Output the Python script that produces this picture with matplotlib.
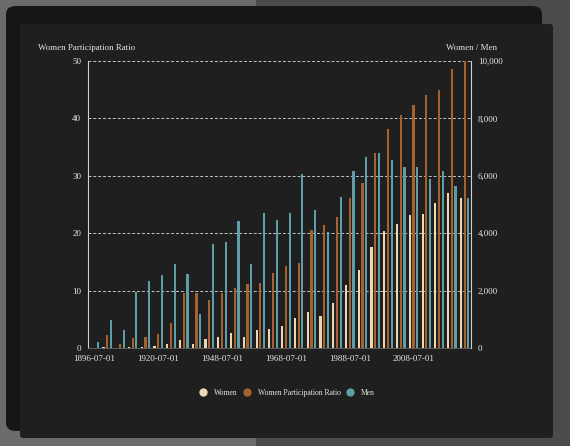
import numpy as np
import matplotlib
matplotlib.use('Agg')
from matplotlib import pyplot as plt
from matplotlib.patches import FancyBboxPatch, Rectangle
from matplotlib.lines import Line2D
from matplotlib.ticker import FuncFormatter

dates = ['1896-07-01', '1900-07-01', '1904-07-01', '1908-07-01', '1912-07-01',
         '1920-07-01', '1924-07-01', '1928-07-01', '1932-07-01', '1936-07-01',
         '1948-07-01', '1952-07-01', '1956-07-01', '1960-07-01', '1964-07-01',
         '1968-07-01', '1972-07-01', '1976-07-01', '1980-07-01', '1984-07-01',
         '1988-07-01', '1992-07-01', '1996-07-01', '2000-07-01', '2004-07-01',
         '2008-07-01', '2012-07-01', '2016-07-01', '2020-07-01', '2024-07-01']

women = [0, 22, 6, 37, 48, 65, 135, 277, 126, 331,
         390, 519, 376, 611, 678, 781, 1059, 1260, 1115, 1566,
         2194, 2704, 3512, 4069, 4329, 4637, 4676, 5059, 5389, 5227]

men = [210, 960, 620, 1960, 2350, 2550, 2940, 2590, 1190, 3620,
       3700, 4420, 2920, 4710, 4450, 4720, 6060, 4800, 4050, 5250,
       6180, 6640, 6780, 6560, 6290, 6290, 5880, 6170, 5660, 5220]

ratio = [0, 2.2, 0.7, 1.8, 2.0, 2.5, 4.4, 9.6, 9.5, 8.4,
         9.5, 10.5, 11.2, 11.4, 13.1, 14.2, 14.8, 20.6, 21.4, 22.8,
         26.1, 28.8, 34.0, 38.1, 40.6, 42.3, 44.1, 45.0, 48.6, 50.0]

c_women = '#ecd8b2'
c_ratio = '#a6622e'
c_men = '#5f9ea8'
txt = '#e6e6e6'
serif = ['Liberation Serif', 'DejaVu Serif']

fig = plt.figure(figsize=(5.7, 4.46), dpi=100)
fig.patch.set_facecolor('#4b4b4b')

# screenshot background pieces
fig.patches.append(Rectangle((0, 0), 256 / 570, 1, transform=fig.transFigure,
                             facecolor='#6b6b6b', edgecolor='none', zorder=0))
fig.patches.append(FancyBboxPatch((6 / 570, 1 - 431 / 446), 536 / 570, 425 / 446,
                                  boxstyle='round,pad=0,rounding_size=0.018',
                                  transform=fig.transFigure, facecolor='#161616',
                                  edgecolor='none', zorder=1))
fig.patches.append(FancyBboxPatch((20 / 570, 1 - 438 / 446), 533 / 570, 414 / 446,
                                  boxstyle='round,pad=0,rounding_size=0.006',
                                  transform=fig.transFigure, facecolor='#1f1f1f',
                                  edgecolor='none', zorder=2))

ax = fig.add_axes([88 / 570, 1 - 348 / 446, 383 / 570, 287 / 446])
ax.set_zorder(3)
ax.patch.set_alpha(0)
ax2 = ax.twinx()

x = np.arange(len(dates))
w = 0.17
off = 0.29
ax2.bar(x - off, women, w, color=c_women, zorder=3)
ax.bar(x, ratio, w, color=c_ratio, zorder=3)
ax2.bar(x + off, men, w, color=c_men, zorder=3)

ax.set_xlim(-0.5, len(dates) - 0.5)
ax.set_ylim(0, 50)
ax2.set_ylim(0, 10000)
ax.set_yticks([0, 10, 20, 30, 40, 50])
ax2.set_yticks([0, 2000, 4000, 6000, 8000, 10000])
ax2.yaxis.set_major_formatter(FuncFormatter(lambda v, p: f'{int(v):,}'))
ax.set_xticks(x[::5])
ax.set_xticklabels(dates[::5])

ax.grid(axis='y', color='#c4c4c4', linestyle=(0, (3, 2)), linewidth=0.7)
ax.set_axisbelow(True)

for a in (ax, ax2):
    for s in a.spines.values():
        s.set_visible(False)
    a.tick_params(length=0, colors=txt, labelsize=6.5, pad=5)
    for lab in a.get_xticklabels() + a.get_yticklabels():
        lab.set_family(serif)
ax.spines['left'].set_visible(True)
ax.spines['left'].set_color('#d0d0d0')
ax.spines['left'].set_linewidth(0.8)
ax.spines['bottom'].set_visible(True)
ax.spines['bottom'].set_color('#6a6a6a')
ax.spines['bottom'].set_linewidth(0.6)
ax2.spines['right'].set_visible(True)
ax2.spines['right'].set_color('#d0d0d0')
ax2.spines['right'].set_linewidth(0.8)

fig.text(38 / 570, 1 - 47.5 / 446, 'Women Participation Ratio', color=txt,
         fontsize=6.4, family=serif, ha='left', va='center')
fig.text(497 / 570, 1 - 47.5 / 446, 'Women / Men', color=txt,
         fontsize=6.4, family=serif, ha='right', va='center')

handles = [Line2D([], [], marker='o', linestyle='none', markersize=6.0,
                  markerfacecolor=c, markeredgecolor='none') for c in (c_women, c_ratio, c_men)]
leg = fig.legend(handles, ['Women', 'Women Participation Ratio', 'Men'],
                 loc='center', bbox_to_anchor=(287 / 570, 1 - 393 / 446), ncol=3,
                 frameon=False, handletextpad=0.9, columnspacing=0.75,
                 handlelength=1.0, borderpad=0, prop={'family': serif, 'size': 5.5})
for t in leg.get_texts():
    t.set_color(txt)

fig.savefig('out.png', dpi=100, facecolor=fig.get_facecolor())
